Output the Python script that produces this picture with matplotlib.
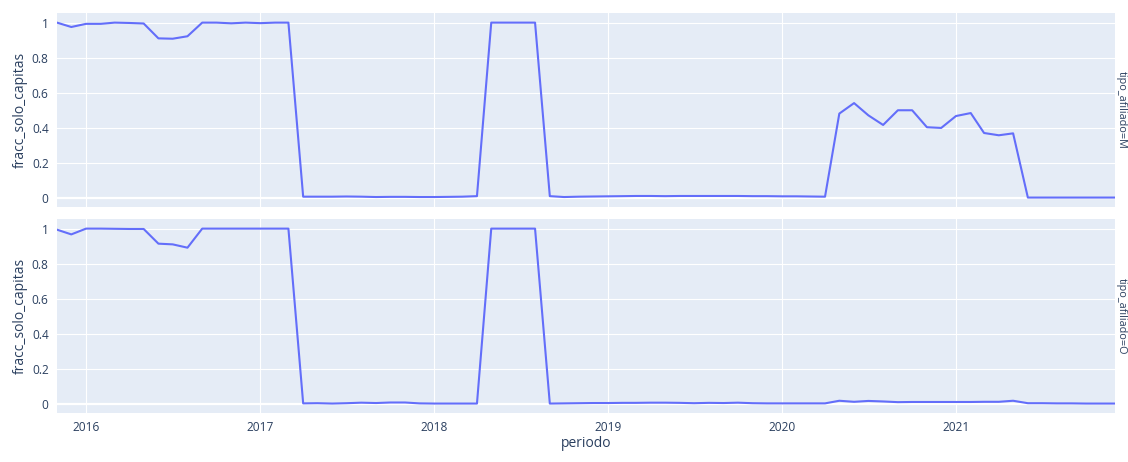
import numpy as np
import pandas as pd
import matplotlib as mpl
mpl.use("Agg")
from matplotlib import pyplot as plt
import matplotlib.dates as mdates
from matplotlib.ticker import FixedLocator, FuncFormatter

# monthly periods, Nov 2015 .. Dec 2021
periodo = pd.date_range("2015-11-01", "2021-12-01", freq="MS")

frac_M = [
    1.0, 0.975,
    0.993, 0.993, 1.0, 0.998, 0.995, 0.91, 0.908, 0.922, 1.0, 1.0, 0.996, 1.0,
    0.997, 1.0, 1.0, 0.005, 0.005, 0.005, 0.006, 0.005, 0.003, 0.004, 0.004, 0.003,
    0.003, 0.004, 0.005, 0.008, 1.0, 1.0, 1.0, 1.0, 0.008, 0.003, 0.005, 0.006,
    0.007, 0.008, 0.009, 0.009, 0.008, 0.009, 0.009, 0.009, 0.009, 0.009, 0.008, 0.008,
    0.007, 0.007, 0.006, 0.005, 0.48, 0.54, 0.47, 0.415, 0.499, 0.499, 0.402, 0.398,
    0.466, 0.483, 0.369, 0.356, 0.367, 0.0, 0.0, 0.0, 0.0, 0.0, 0.0, 0.0,
]
frac_O = [
    0.994, 0.967,
    1.0, 1.0, 0.999, 0.998, 0.998, 0.914, 0.91, 0.891, 1.0, 1.0, 1.0, 1.0,
    1.0, 1.0, 1.0, 0.001, 0.002, 0.0, 0.002, 0.005, 0.003, 0.006, 0.006, 0.001,
    0.0, 0.0, 0.0, 0.0, 1.0, 1.0, 1.0, 1.0, 0.0, 0.001, 0.002, 0.003,
    0.003, 0.004, 0.004, 0.005, 0.005, 0.004, 0.002, 0.004, 0.003, 0.005, 0.002, 0.001,
    0.001, 0.001, 0.001, 0.001, 0.016, 0.01, 0.015, 0.012, 0.008, 0.009, 0.009, 0.009,
    0.009, 0.009, 0.01, 0.01, 0.016, 0.002, 0.002, 0.001, 0.001, 0.0, 0.0, 0.0,
]
facets = ["M", "O"]
y_ticks = [0, 0.2, 0.4, 0.6, 0.8, 1]
year_ticks = [2016, 2017, 2018, 2019, 2020, 2021]

plt.rcParams['font.family'] = ['Open Sans', 'DejaVu Sans']
text_col = '#2a3f5f'
bg_col = '#E5ECF6'
line_col = '#636efa'

W, H = 1128, 462
fig = plt.figure(figsize=(W / 100, H / 100), dpi=100)

def px_axes(x0, y0, x1, y1):
    return fig.add_axes([x0 / W, 1 - y1 / H, (x1 - x0) / W, (y1 - y0) / H])

ax_top = px_axes(57, 13, 1115, 207)
ax_bot = px_axes(57, 219, 1115, 413)
axes = [ax_top, ax_bot]

xmin = mdates.date2num(periodo[0])
xmax = mdates.date2num(periodo[-1])
year_pos = [mdates.date2num(pd.Timestamp(f"{y}-01-01")) for y in year_ticks]

for ax, tipo, vals in zip(axes, facets, [frac_M, frac_O]):
    ax.set_facecolor(bg_col)
    for s in ax.spines.values():
        s.set_visible(False)
    ax.set_xlim(xmin, xmax)
    ax.set_ylim(-0.054, 1.055)
    ax.xaxis.set_major_locator(FixedLocator(year_pos))
    ax.yaxis.set_major_locator(FixedLocator(y_ticks))
    ax.yaxis.set_major_formatter(FuncFormatter(lambda v, p: f"{v:g}"))
    ax.grid(True, color='white', linewidth=0.8)
    ax.set_axisbelow(True)
    ax.axhline(0, color='white', linewidth=1.6, zorder=1)
    ax.tick_params(axis='both', length=0, labelsize=8.6, colors=text_col, pad=6)
    ax.plot(mdates.date2num(periodo), vals, color=line_col, linewidth=1.5, zorder=3)
    ax.set_ylabel('fracc_solo_capitas', fontsize=10, color=text_col, labelpad=3)
    # facet label on the right side
    pos = ax.get_position()
    fig.text(1121 / W, (pos.y0 + pos.y1) / 2, f"tipo_afiliado={tipo}",
             rotation=-90, ha='center', va='center', fontsize=7.8, color=text_col)

ax_top.tick_params(axis='x', labelbottom=False)
ax_bot.xaxis.set_major_formatter(FuncFormatter(lambda v, p: mdates.num2date(v).strftime('%Y')))
ax_bot.set_xlabel('periodo', fontsize=10, color=text_col, labelpad=1)

fig.savefig('out.png', dpi=100)
